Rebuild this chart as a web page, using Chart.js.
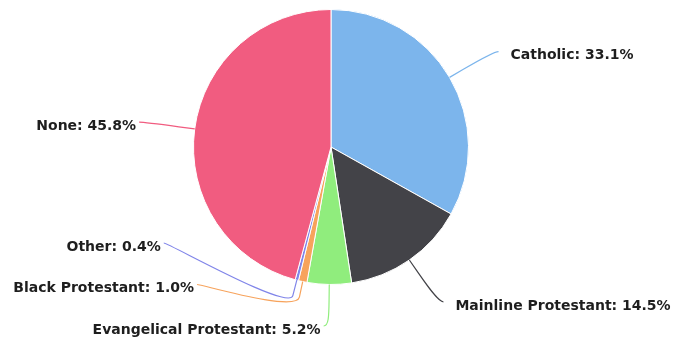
<!DOCTYPE html>
<html>
<head>
<meta charset="utf-8">
<script src="https://cdn.jsdelivr.net/npm/chart.js@4/dist/chart.umd.min.js"></script>
<style>
  html, body { margin: 0; padding: 0; background: #ffffff; }
  #wrap { width: 691px; height: 341px; position: relative; }
</style>
</head>
<body>
<div id="wrap"><canvas id="chart"></canvas></div>
<script>
// Religious affiliation shares (percent)
const categories = ['Catholic', 'Mainline Protestant', 'Evangelical Protestant', 'Black Protestant', 'Other', 'None'];
const shares = [33.1, 14.5, 5.2, 1.0, 0.4, 45.8];
const sliceColors = ['#7cb5ec', '#434348', '#90ed7d', '#f7a35c', '#8085e9', '#f15c80'];

// Outside labels with soft connectors, placed on a ring around the pie
// and spread apart vertically on each side so they do not collide.
const pieLabels = {
  id: 'pieLabels',
  afterDatasetsDraw(chart, args, opts) {
    const ctx = chart.ctx;
    const meta = chart.getDatasetMeta(0);
    const ds = chart.data.datasets[0];
    const items = meta.data.map((arc, i) => {
      const p = arc.getProps(['x', 'y', 'startAngle', 'endAngle', 'outerRadius'], true);
      const mid = (p.startAngle + p.endAngle) / 2;
      const ux = Math.cos(mid), uy = Math.sin(mid);
      const R = p.outerRadius + opts.distance;
      return {
        cx: p.x, cy: p.y, r: p.outerRadius, R, ux, uy,
        left: ux < 0,
        naturalY: p.y + R * uy,
        text: chart.data.labels[i] + ': ' + ds.data[i].toFixed(1) + '%',
        color: ds.backgroundColor[i]
      };
    });

    const bottom = chart.height - opts.bottomInset;
    [true, false].forEach(side => {
      const list = items.filter(it => it.left === side).sort((a, b) => b.naturalY - a.naturalY);
      let limit = bottom;
      list.forEach(it => {
        it.y = Math.min(it.naturalY, limit);
        // a label pinned to the lower edge keeps its natural ring position in x
        it.atEdge = it.y === bottom;
        limit = it.y - opts.slot;
      });
    });

    ctx.save();
    items.forEach(it => {
      const dir = it.left ? -1 : 1;
      const yForX = it.atEdge ? it.naturalY : it.y;
      const dy = yForX - it.cy;
      const x = it.cx + dir * Math.sqrt(Math.max(it.R * it.R - dy * dy, 0));
      const y = it.y;
      const ex = it.cx + it.r * it.ux, ey = it.cy + it.r * it.uy;
      const bx = it.cx + (it.r + opts.bend) * it.ux, by = it.cy + (it.r + opts.bend) * it.uy;

      ctx.beginPath();
      ctx.moveTo(x + dir * 5, y);
      ctx.bezierCurveTo(x, y, 2 * bx - ex, 2 * by - ey, bx, by);
      ctx.lineTo(ex, ey);
      ctx.strokeStyle = it.color;
      ctx.lineWidth = opts.lineWidth;
      ctx.stroke();

      ctx.font = opts.font;
      ctx.fillStyle = opts.color;
      ctx.textAlign = it.left ? 'right' : 'left';
      ctx.textBaseline = 'middle';
      ctx.fillText(it.text, x + dir * (it.left ? opts.gapLeft : opts.gapRight), y + opts.textDy);
    });
    ctx.restore();
  }
};

new Chart(document.getElementById('chart'), {
  type: 'pie',
  data: {
    labels: categories,
    datasets: [{
      data: shares,
      backgroundColor: sliceColors,
      borderColor: '#ffffff',
      borderWidth: 1
    }]
  },
  options: {
    responsive: true,
    maintainAspectRatio: false,
    animation: false,
    events: [],
    layout: { padding: { left: 193, right: 222, top: 9, bottom: 56 } },
    plugins: {
      legend: { display: false },
      tooltip: { enabled: false },
      pieLabels: {
        distance: 51,
        bend: 16,
        slot: 41.5,
        bottomInset: 15,
        gapLeft: 8,
        gapRight: 17,
        textDy: 4,
        lineWidth: 1.2,
        font: 'bold 14px "DejaVu Sans", sans-serif',
        color: '#1e1e1e'
      }
    }
  },
  plugins: [pieLabels]
});
</script>
</body>
</html>
